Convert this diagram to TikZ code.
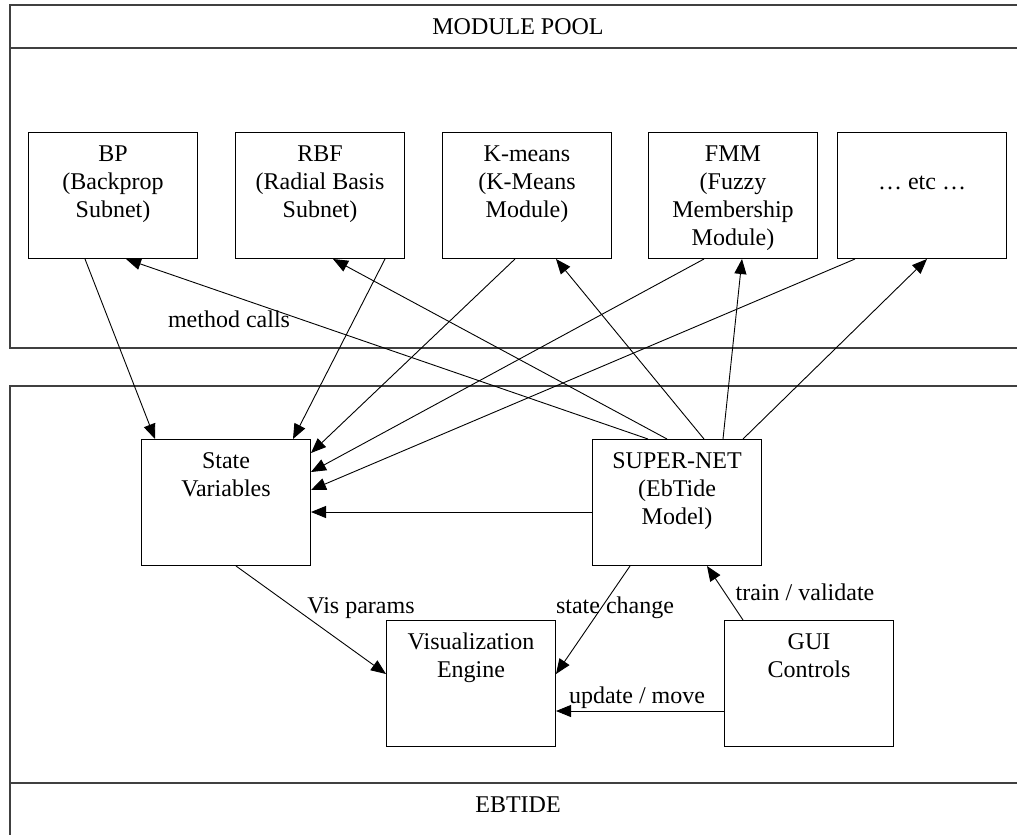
\documentclass[tikz,border=0pt]{standalone}
\usepackage{fontspec}
\setmainfont{Liberation Serif}
\usetikzlibrary{arrows.meta}

\newcommand{\boxlines}[1]{\parbox[t][126pt][t]{169pt}{\centering\rule{0pt}{29pt}#1}}

\begin{document}
\begin{tikzpicture}[x=1pt,y=-1pt,->,>={Triangle[length=15pt,width=12pt]},line width=0.9pt,
        every node/.style={font=\fontsize{24}{28}\selectfont,inner sep=0pt},
        modbox/.style={draw,line width=1pt,anchor=north west,minimum width=169pt,minimum height=126pt},
        frame/.style={-,draw=black!75,line width=1.6pt}]

        \useasboundingbox (0,0) rectangle (1017,835);

        % the two frames
        \draw[frame] (1017,5) -- (10,5) -- (10,348) -- (1017,348);
        \draw[frame] (10,48) -- (1017,48);
        \draw[frame] (1017,386) -- (10,386) -- (10,835);
        \draw[frame] (10,783) -- (1017,783);

        \node (poolTitle) at (518,27) {MODULE POOL};
        \node (ebtideTitle) at (518,805) {EBTIDE};

        \node[modbox] at (28,132) (bpBox) {\boxlines{BP\\(Backprop\\Subnet)}};
        \node[modbox] at (235,132) (rbfBox) {\boxlines{RBF\\(Radial Basis\\Subnet)}};
        \node[modbox] at (442,132) (kmBox) {\boxlines{K-means\\(K-Means\\Module)}};
        \node[modbox] at (648,132) (fmmBox) {\boxlines{FMM\\(Fuzzy\\Membership\\Module)}};
        \node[modbox] at (837,132) (etcBox) {\boxlines{\\… etc …}};

        \node[modbox] at (141,439) (stateVars) {\boxlines{State\\Variables}};
        \node[modbox] at (592,439) (superNet) {\boxlines{SUPER-NET\\(EbTide\\Model)}};
        \node[modbox] at (386,620) (visEngine) {\boxlines{Visualization\\Engine}};
        \node[modbox] at (724,620) (guiCtrl) {\boxlines{GUI\\Controls}};

        % modules -> state variables
        \draw ([xshift=57pt]bpBox.south west) -- ([xshift=14pt]stateVars.north west);
        \draw ([xshift=150pt]rbfBox.south west) -- ([xshift=152pt]stateVars.north west);
        \draw ([xshift=73pt]kmBox.south west) -- ([yshift=-14pt]stateVars.north east);
        \draw ([xshift=56pt]fmmBox.south west) -- ([yshift=-33pt]stateVars.north east);
        \draw ([xshift=18pt]etcBox.south west) -- ([yshift=-51pt]stateVars.north east);
        \draw ([yshift=-73pt]superNet.north west) -- ([yshift=-73pt]stateVars.north east);

        % method calls
        \draw ([xshift=56pt]superNet.north west) -- ([xshift=98pt]bpBox.south west);
        \draw ([xshift=75pt]superNet.north west) -- ([xshift=98pt]rbfBox.south west);
        \draw ([xshift=112pt]superNet.north west) -- ([xshift=114pt]kmBox.south west);
        \draw ([xshift=131pt]superNet.north west) -- ([xshift=94pt]fmmBox.south west);
        \draw ([xshift=151pt]superNet.north west) -- ([xshift=90pt]etcBox.south west);
        \node[anchor=base] at (229,327) (methodLbl) {method calls};

        \draw ([xshift=95pt]stateVars.south west) -- ([yshift=-54pt]visEngine.north west);
        \node[anchor=base] at (361,613) (visLbl) {Vis params};
        \draw ([xshift=38pt]superNet.south west) -- ([yshift=-54pt]visEngine.north east);
        \node[anchor=base] at (615,613) (changeLbl) {state change};
        \draw ([xshift=19pt]guiCtrl.north west) -- ([xshift=115pt]superNet.south west);
        \node[anchor=base] at (805,600) (trainLbl) {train / validate};
        \draw ([yshift=-91pt]guiCtrl.north west) -- ([yshift=-91pt]visEngine.north east);
        \node[anchor=base] at (637,703) (moveLbl) {update / move};

      \end{tikzpicture}
\end{document}
